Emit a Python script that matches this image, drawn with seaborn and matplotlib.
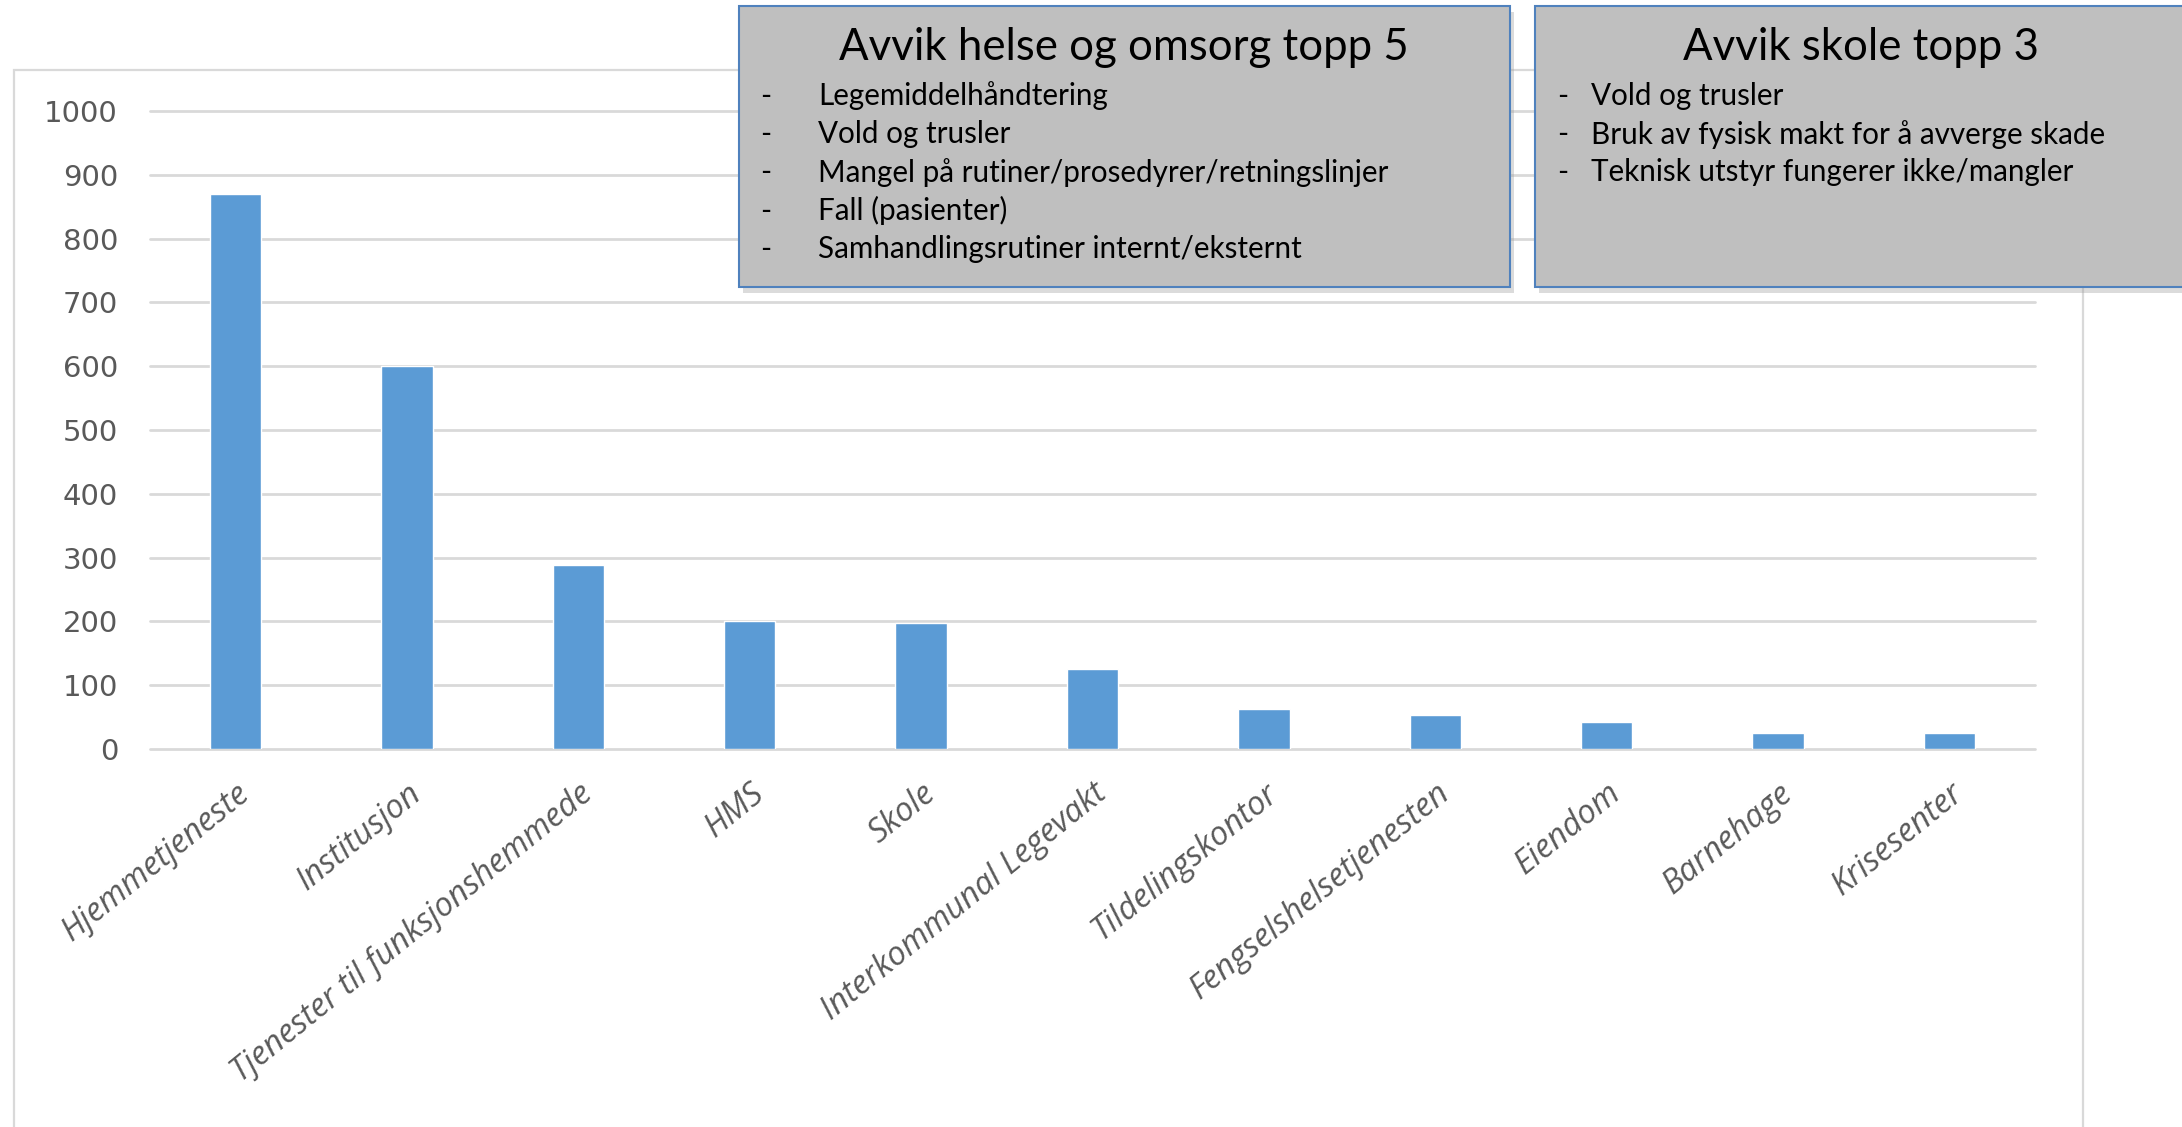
import matplotlib
matplotlib.use("Agg")
import matplotlib.pyplot as plt
import seaborn as sns
import pandas as pd
from matplotlib.patches import Rectangle

# data
kategorier = ["Hjemmetjeneste", "Institusjon", "Tjenester til funksjonshemmede", "HMS", "Skole",
              "Interkommunal Legevakt", "Tildelingskontor", "Fengselshelsetjenesten", "Eiendom",
              "Barnehage", "Krisesenter"]
antall = [870, 600, 288, 200, 197, 125, 63, 53, 42, 25, 25]
yticks = [0, 100, 200, 300, 400, 500, 600, 700, 800, 900, 1000]

tittel_helse = "Avvik helse og omsorg topp 5"
punkter_helse = ["Legemiddelhåndtering", "Vold og trusler", "Mangel på rutiner/prosedyrer/retningslinjer",
                 "Fall (pasienter)", "Samhandlingsrutiner internt/eksternt"]
tittel_skole = "Avvik skole topp 3"
punkter_skole = ["Vold og trusler", "Bruk av fysisk makt for å avverge skade",
                 "Teknisk utstyr fungerer ikke/mangler"]

sns.set_theme(style="white")
plt.rcParams['font.family'] = ['Lato', 'DejaVu Sans']

W, H = 2182, 1127
fig = plt.figure(figsize=(W / 100, H / 100), dpi=100)

def fx(x):
    return x / W

def fy(y):
    return 1 - y / H

# chart border
fig.add_artist(Rectangle((fx(14), fy(1140)), fx(2083) - fx(14), fy(70) - fy(1140),
                         transform=fig.transFigure, fill=False, edgecolor="#d9d9d9", lw=1.6))

ax = fig.add_axes([fx(150), fy(749), fx(2035) - fx(150), fy(111) - fy(749)])
df = pd.DataFrame({"kategori": kategorier, "antall": antall})
sns.barplot(data=df, x="kategori", y="antall", color="#5b9bd5", width=0.3, saturation=1, ax=ax, zorder=3)
ax.set_ylim(0, 1000)
ax.set_xlim(-0.5, len(kategorier) - 0.5)
ax.set_yticks(yticks)
for v in yticks:
    ax.axhline(v, color="#d9d9d9", lw=2, zorder=1, clip_on=False)
for s in ax.spines.values():
    s.set_visible(False)
ax.set_xlabel("")
ax.set_ylabel("")
ax.tick_params(axis="y", length=0, pad=23, labelsize=21, labelcolor="#595959")
ax.tick_params(axis="x", length=0, pad=20)
for t in ax.get_yticklabels():
    t.set_family("DejaVu Sans")
ax.set_xticks(range(len(kategorier)))
ax.set_xticklabels(kategorier, rotation=39, ha="right", va="top", rotation_mode="anchor",
                   fontsize=23.5, color="#595959", style="italic", family=["Open Sans", "DejaVu Sans"])

def boks(x0, y0, x1, y1, tittel, punkter, dash_x, text_x, title_x):
    fig.add_artist(Rectangle((fx(x0 + 4), fy(y1 + 6)), fx(x1) - fx(x0), fy(y0) - fy(y1),
                             transform=fig.transFigure, facecolor="#9a9a9a", edgecolor="none", alpha=0.35))
    fig.add_artist(Rectangle((fx(x0), fy(y1)), fx(x1) - fx(x0), fy(y0) - fy(y1),
                             transform=fig.transFigure, facecolor="#bfbfbf", edgecolor="#4f81bd", lw=1.5))
    fig.text(fx(title_x), fy(47), tittel, ha="center", va="center", fontsize=31.5, color="black")
    for i, p in enumerate(punkter):
        y = fy(96 + i * 38.2)
        fig.text(fx(dash_x), y, "-", ha="left", va="center", fontsize=21.3, color="black")
        fig.text(fx(text_x), y, p, ha="left", va="center", fontsize=21.3, color="black")

boks(739, 6, 1510, 287, tittel_helse, punkter_helse, 760, 818, 1124)
boks(1535, 6, 2200, 287, tittel_skole, punkter_skole, 1557, 1591, 1861)

fig.savefig("out.png", dpi=100)
